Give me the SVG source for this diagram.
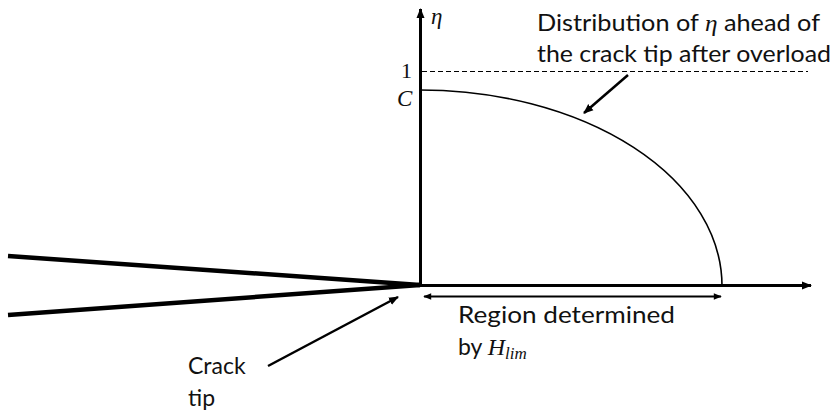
<svg xmlns="http://www.w3.org/2000/svg" width="834" height="417" viewBox="0 0 834 417">
<defs>
<marker id="ah" viewBox="0 0 10 10" refX="9" refY="5" markerWidth="10" markerHeight="10" markerUnits="userSpaceOnUse" orient="auto-start-reverse">
<path d="M0,1 L10,5 L0,9 Z" fill="#000"/>
</marker>
<marker id="ahs" viewBox="0 0 10 10" refX="9" refY="5" markerWidth="9" markerHeight="8" markerUnits="userSpaceOnUse" orient="auto-start-reverse">
<path d="M0,1 L10,5 L0,9 Z" fill="#000"/>
</marker>
</defs>
<style>
.t{font-family:Lato,"Liberation Sans",sans-serif;font-size:23px;fill:#111}
.m{font-family:"Liberation Serif","DejaVu Serif",serif;font-style:italic;fill:#111}
.ln{stroke:#000;fill:none}
</style>
<rect width="834" height="417" fill="#fff"/>
<g id="connectors">
<line class="ln" x1="420.5" y1="287" x2="420.5" y2="9" stroke-width="3" marker-end="url(#ah)"/>
<line class="ln" x1="419" y1="285.5" x2="811" y2="285.5" stroke-width="3" marker-end="url(#ah)"/>
<line class="ln" x1="422" y1="71.5" x2="808" y2="71.5" stroke-width="1" stroke="#777" stroke-dasharray="5,3"/>
<path class="ln" d="M420,90 A302,196 0 0 1 722,286" stroke-width="1.6"/>
<line class="ln" x1="8" y1="256" x2="420" y2="285" stroke-width="4.5"/>
<line class="ln" x1="8" y1="315" x2="420" y2="285" stroke-width="4.5"/>
<line class="ln" x1="424" y1="296.5" x2="721" y2="296.5" stroke-width="1.8" marker-start="url(#ahs)" marker-end="url(#ahs)"/>
<line class="ln" x1="628" y1="75" x2="584" y2="113" stroke-width="2.5" marker-end="url(#ah)"/>
<line class="ln" x1="268" y1="366" x2="398" y2="297" stroke-width="2.5" marker-end="url(#ah)"/>
</g>
<g id="axis-labels">
<text class="m" x="431" y="24" font-size="23">η</text>
<text x="401" y="78" font-family="Liberation Serif,serif" font-size="22" fill="#111">1</text>
<text class="m" x="397" y="106" font-size="23">C</text>
</g>
<g id="distribution-label">
<text class="t" x="537" y="31" textLength="283" lengthAdjust="spacingAndGlyphs">Distribution of <tspan class="m" font-size="23">η</tspan> ahead of</text>
<text class="t" x="537" y="62" textLength="294" lengthAdjust="spacingAndGlyphs">the crack tip after overload</text>
</g>
<g id="region-label">
<text class="t" x="458" y="323" textLength="217" lengthAdjust="spacingAndGlyphs">Region determined</text>
<text class="t" x="458" y="355">by <tspan class="m" font-size="24">H</tspan><tspan class="m" font-size="17" dy="4">lim</tspan></text>
</g>
<g id="crack-tip-label">
<text class="t" x="188" y="374">Crack</text>
<text class="t" x="188" y="406">tip</text>
</g>
</svg>
